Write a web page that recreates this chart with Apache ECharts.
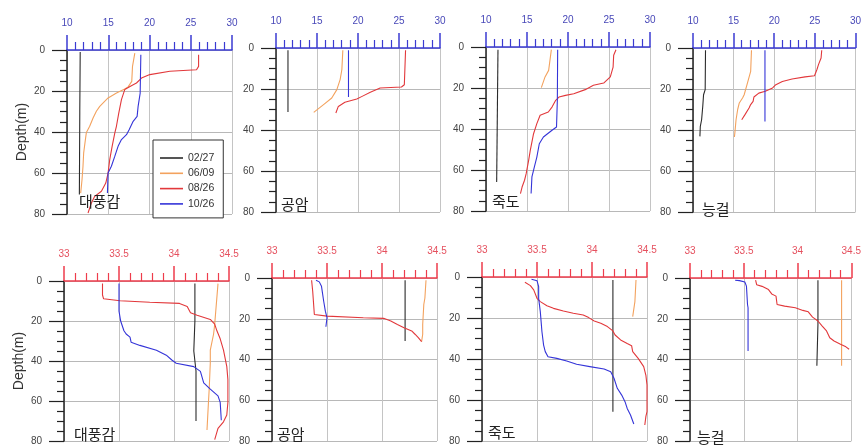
<!DOCTYPE html>
<html><head><meta charset="utf-8">
<script src="https://cdn.jsdelivr.net/npm/echarts@6/dist/echarts.min.js"></script>
<style>html,body{margin:0;padding:0;background:#fff}#c{width:864px;height:446px}</style>
</head><body><div id="c"></div>
<script>
// ---- Data ----
const stations = ['대풍감', '공암', '죽도', '능걸'];
const dates = ['02/27', '06/09', '08/26', '10/26'];
const tempRange = [10, 30];
const tempStep = 5;
const salRange = [33, 34.5];
const salStep = 0.5;
const depthRange = [0, 80];
const depthStep = 20;

// Temperature profiles: [temperature (°C), depth (m)]
const tDaepung0227 = [[11.6,1],[11.55,30],[11.5,70.5]];
const tDaepung0609 = [[18.22,1.5],[17.94,8],[17.85,15.3],[17.41,18],[17.0,19],[16.0,21],[14.98,23.4],[13.97,27.5],[13.56,29.9],[13.16,33.2],[12.75,37.2],[12.35,40.2],[12.23,43.7],[12.02,50.2],[11.94,56.7],[11.82,63.3],[11.66,69.8]];
const tDaepung0826 = [[25.95,2.3],[25.95,8],[25.7,9.6],[22.47,10.4],[20.04,12],[19.03,13.7],[18.42,16.1],[17.8,17.4],[17.0,19.3],[16.6,24.2],[16.28,30.7],[15.99,37.2],[15.79,40.5],[15.47,47],[15.18,53.5],[14.98,60],[14.7,64.9],[14.17,68.9],[13.36,71.4],[12.96,74.6],[12.55,79.5]];
const tDaepung1026 = [[18.95,2.3],[18.87,21],[18.62,27.5],[18.5,32.4],[18.02,34.8],[17.53,38.9],[17.21,41.3],[16.6,43.7],[16.19,47],[15.79,51.9],[15.38,56.7],[14.98,60],[14.9,69.8]];

const tGongam0227 = [[11.46,1.1],[11.46,31.2]];
const tGongam0609 = [[18.15,1.1],[18.03,10.6],[17.82,15.4],[17.42,20.3],[16.8,24.4],[15.8,27.6],[14.6,31.4]];
const tGongam0826 = [[25.8,1.1],[25.65,17.9],[25.3,19],[22.7,19.5],[21.5,21.6],[20.5,23.6],[19.85,24.9],[18.4,26.5],[17.6,28.5],[17.3,31.7]];
const tGongam1026 = [[18.84,1.1],[18.84,23.9]];

const tJukdo0227 = [[11.46,1.3],[11.3,65.8]];
const tJukdo0609 = [[17.97,1.3],[17.64,11.4],[17.2,14.6],[16.75,19.8]];
const tJukdo0826 = [[25.85,1.3],[25.57,4],[25.5,9.8],[25.16,14.6],[24.35,17.6],[23.1,18.7],[22.1,20.8],[20.7,22.8],[19.7,23.6],[18.9,24.4],[18.5,26],[18.05,29.3],[17.6,31.7],[16.6,33.3],[16.2,37.4],[15.8,42.3],[15.4,50.4],[15.2,55.3],[14.9,61.8],[14.7,65],[14.4,68.3],[14.2,71.5]];
const tJukdo1026 = [[18.74,1.3],[18.7,26],[18.6,39],[18.05,40.6],[17.0,43.9],[16.5,47.2],[16.2,53.7],[15.9,58.5],[15.6,63.4],[15.5,71.5]];

const tNeunggeol0227 = [[11.54,1.1],[11.5,20.3],[11.3,22.8],[11.2,28.5],[11.06,35],[10.9,38.2],[10.85,43.1]];
const tNeunggeol0609 = [[17.2,1.1],[17.1,11.4],[16.7,17.1],[16.3,22.8],[16.1,24.4],[15.7,26.8],[15.5,30],[15.3,35],[15.15,41.5],[15.1,43.4]];
const tNeunggeol0826 = [[25.85,1.1],[25.77,4.9],[25.45,8.1],[25.25,10.6],[24.96,13.5],[23.8,14.1],[22.2,15.1],[21.0,16.3],[20.2,17.9],[19.8,19.5],[18.9,21.1],[18.1,22],[17.5,23.9],[17.4,26],[17.1,27.6],[16.9,29.3],[16.4,32.5],[16.0,35]];
const tNeunggeol1026 = [[18.86,1.1],[18.86,35.8]];

// Salinity profiles: [salinity, depth (m)]
const sDaepung0227 = [[34.19,1.3],[34.19,20],[34.18,35],[34.2,45],[34.2,70]];
const sDaepung0609 = [[34.40,1.3],[34.37,21.6],[34.36,26.5],[34.33,34.6],[34.33,41],[34.32,54],[34.31,64],[34.30,74.5]];
const sDaepung0826 = [[33.35,1.3],[33.35,7],[33.36,8.9],[33.51,9.9],[33.78,10.6],[34.05,11.2],[34.12,12.7],[34.15,15.9],[34.21,17.1],[34.33,19.2],[34.37,21.6],[34.39,24.9],[34.42,28.9],[34.45,34.6],[34.48,42.8],[34.49,49.3],[34.49,60.7],[34.48,67],[34.45,70.4],[34.4,73.7],[34.37,79.3]];
const sDaepung1026 = [[33.5,1.3],[33.5,15.1],[33.515,20],[33.545,24.9],[33.565,26.5],[33.6,28.1],[33.61,30.6],[33.69,32.2],[33.84,34.6],[33.93,37.1],[33.98,39.5],[34.02,41.1],[34.18,42.8],[34.24,45.2],[34.27,50.9],[34.33,54.1],[34.4,57.4],[34.42,60.7],[34.43,69.6]];

const sGongam0227 = [[34.21,1.1],[34.21,30.9]];
const sGongam0609 = [[34.40,1.1],[34.39,9.8],[34.38,13],[34.37,22.8],[34.37,27.6],[34.36,31.2]];
const sGongam0826 = [[33.36,1.1],[33.37,6.5],[33.385,17.9],[33.5,18.7],[33.83,19.5],[34.015,19.8],[34.08,21.1],[34.14,22.8],[34.2,24.4],[34.27,26],[34.3,27.6],[34.33,29.3],[34.36,31.2]];
const sGongam1026 = [[33.40,1.1],[33.43,1.9],[33.45,4.1],[33.47,11.4],[33.485,16.3],[33.5,19.5],[33.49,23.9]];

const sJukdo0227 = [[34.19,1.5],[34.19,65.7]];
const sJukdo0609 = [[34.40,1.5],[34.39,12],[34.37,19.3]];
const sJukdo0826 = [[33.39,2.6],[33.4,3.4],[33.44,4.2],[33.47,6.3],[33.5,10.4],[33.53,12],[33.59,14],[33.65,15.3],[33.74,16.6],[33.83,17.7],[33.92,18.5],[33.97,19.8],[34.02,21.5],[34.08,22.6],[34.14,24.2],[34.19,26.3],[34.21,28.3],[34.26,30.7],[34.32,32.4],[34.36,33.5],[34.37,36.4],[34.42,39.7],[34.47,43.7],[34.49,48],[34.5,52.7],[34.5,59],[34.5,65.7],[34.49,68],[34.48,72.2]];
const sJukdo1026 = [[33.45,1.1],[33.5,1.8],[33.515,4.7],[33.515,10.4],[33.53,16.9],[33.545,26.7],[33.56,33.2],[33.575,36.4],[33.6,38.9],[33.68,39.7],[33.77,41],[33.86,42.6],[33.98,43.7],[34.11,44.9],[34.17,46.2],[34.2,49.4],[34.23,54.3],[34.27,57.6],[34.3,60.8],[34.32,64.1],[34.35,67.3],[34.38,71.7]];

const sNeunggeol0227 = [[34.19,1.1],[34.19,22.8],[34.18,43.1]];
const sNeunggeol0609 = [[34.41,1.1],[34.41,43.1]];
const sNeunggeol0826 = [[33.61,1.1],[33.62,3.3],[33.67,4.1],[33.73,5.7],[33.76,7.8],[33.8,8.9],[33.81,13],[33.88,13.8],[33.98,14.6],[34.05,15.9],[34.1,16.6],[34.14,19.2],[34.19,21.1],[34.23,23.6],[34.27,26],[34.3,29.3],[34.34,30.9],[34.4,32.5],[34.45,33.8],[34.48,35]];
const sNeunggeol1026 = [[33.42,1.1],[33.46,1.3],[33.51,2],[33.525,4],[33.535,13],[33.54,14.6],[33.54,35.8]];

// ---- Build ----
const panelData = [
  [tDaepung0227, tDaepung0609, tDaepung0826, tDaepung1026],
  [tGongam0227, tGongam0609, tGongam0826, tGongam1026],
  [tJukdo0227, tJukdo0609, tJukdo0826, tJukdo1026],
  [tNeunggeol0227, tNeunggeol0609, tNeunggeol0826, tNeunggeol1026],
  [sDaepung0227, sDaepung0609, sDaepung0826, sDaepung1026],
  [sGongam0227, sGongam0609, sGongam0826, sGongam1026],
  [sJukdo0227, sJukdo0609, sJukdo0826, sJukdo1026],
  [sNeunggeol0227, sNeunggeol0609, sNeunggeol0826, sNeunggeol1026]
];
const rects = [
  {l:67, t:50, w:165, h:164}, {l:276, t:48, w:164, h:164}, {l:486, t:47, w:164, h:164}, {l:693, t:48, w:164, h:164},
  {l:64, t:281, w:165, h:163}, {l:272, t:278, w:165, h:164}, {l:482, t:277, w:165, h:164}, {l:690, t:278, w:164, h:164}
];
const labelPos = [[79,194],[281,197],[492,194],[702,202],[74,427],[277,427],[488,425],[697,430]];
const seriesColors = ['#2b2b2b', '#f3a25e', '#e2383b', '#3434d8'];
const BLUE = '#3b3bd2', BLUE_LBL = '#4848b8', RED = '#ee3c4c', RED_LBL = '#e5505e';
const NUMFONT = '"Liberation Sans", Arial, sans-serif';

const grids = [], xAxes = [], yAxes = [], series = [], graphics = [];
rects.forEach((r, i) => {
  const isTemp = i < 4;
  const ac = isTemp ? BLUE : RED;
  const lc = isTemp ? BLUE_LBL : RED_LBL;
  grids.push({left: r.l, top: r.t, width: r.w, height: r.h});
  xAxes.push({
    gridIndex: i, type: 'value', position: 'top',
    min: isTemp ? tempRange[0] : salRange[0], max: isTemp ? tempRange[1] : salRange[1],
    interval: isTemp ? tempStep : salStep,
    axisLine: {show: true, onZero: false, lineStyle: {color: ac, width: 1.5}},
    axisTick: {show: true, inside: false, length: 15, lineStyle: {color: ac, width: 1.5}},
    minorTick: {show: true, splitNumber: 5, length: 8, lineStyle: {color: ac, width: 1.2}},
    axisLabel: {color: lc, fontSize: 10, margin: 22, fontFamily: NUMFONT},
    splitLine: {show: true, lineStyle: {color: '#c4c4c4', width: 1}},
    minorSplitLine: {show: false}
  });
  yAxes.push({
    gridIndex: i, type: 'value', inverse: true,
    min: depthRange[0], max: depthRange[1], interval: depthStep,
    axisLine: {show: true, onZero: false, lineStyle: {color: '#222', width: 1.5}},
    axisTick: {show: true, inside: false, length: 15, lineStyle: {color: '#222', width: 1.2}},
    minorTick: {show: true, splitNumber: 4, length: 7, lineStyle: {color: '#222', width: 1.2}},
    axisLabel: {color: '#444', fontSize: 10, margin: 22, fontFamily: NUMFONT},
    splitLine: {show: true, lineStyle: {color: '#b8b8b8', width: 1}},
    name: (i % 4 === 0) ? 'Depth(m)' : '',
    nameLocation: 'middle', nameGap: 38,
    nameTextStyle: {fontSize: 14, color: '#333', fontFamily: NUMFONT}
  });
  panelData[i].forEach((d, k) => {
    series.push({
      type: 'line', name: dates[k], xAxisIndex: i, yAxisIndex: i,
      data: d, symbol: 'none', showSymbol: false, silent: true,
      lineStyle: {color: seriesColors[k], width: 1.1},
      itemStyle: {color: seriesColors[k]},
      z: 3
    });
  });
  graphics.push({
    type: 'text', left: labelPos[i][0], top: labelPos[i][1], z: 10,
    style: {text: stations[i % 4], fill: '#222', font: '15px "Noto Sans CJK KR", sans-serif'}
  });
});

const chart = echarts.init(document.getElementById('c'), null, {renderer: 'canvas'});
chart.setOption({
  animation: false,
  backgroundColor: '#fff',
  grid: grids, xAxis: xAxes, yAxis: yAxes, series: series,
  graphic: graphics,
  legend: {
    data: dates, orient: 'vertical', left: 153, top: 140,
    icon: 'rect', itemWidth: 23, itemHeight: 1.6, itemGap: 3.3,
    padding: [12, 9, 8, 7],
    borderColor: '#333', borderWidth: 1, backgroundColor: '#fff',
    textStyle: {color: '#333', fontSize: 10.5, fontFamily: NUMFONT, lineHeight: 12},
    selectedMode: false
  }
});
</script>
</body></html>
